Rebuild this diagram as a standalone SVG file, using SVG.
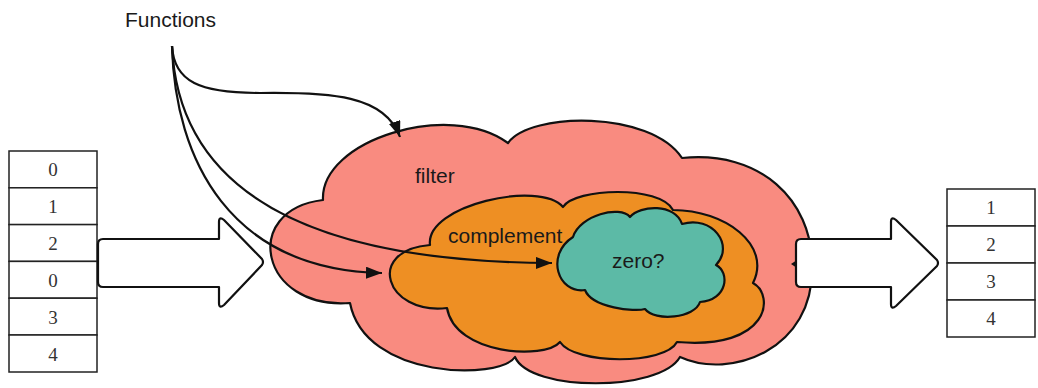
<svg xmlns="http://www.w3.org/2000/svg" width="1038" height="388" viewBox="0 0 1038 388">
  <style>
    .cell { fill: #ffffff; stroke: #222222; stroke-width: 1.5; }
    .num { font-family: "Liberation Serif", "Times New Roman", serif; font-size: 19px; fill: #333333; text-anchor: middle; }
    .label { font-family: "Liberation Sans", Arial, sans-serif; font-size: 21px; fill: #1a1a1a; }
    .block { fill: #ffffff; stroke: #111111; stroke-width: 2.2; stroke-linejoin: round; }
    .cloud { stroke: #111111; stroke-width: 2.2; stroke-linejoin: round; }
    .edge { fill: none; stroke: #111111; stroke-width: 2.2; }
  </style>
  <defs>
    <marker id="head" markerUnits="userSpaceOnUse" markerWidth="18" markerHeight="14" refX="16" refY="6" orient="auto">
      <path d="M0,0 L16,6 L0,12 Z" fill="#111111"/>
    </marker>
  </defs>

  <rect width="1038" height="388" fill="#ffffff"/>

  <!-- input list -->
  <g id="input-list">
    <rect class="cell" x="9" y="151" width="88" height="36.8"/>
    <rect class="cell" x="9" y="187.8" width="88" height="36.8"/>
    <rect class="cell" x="9" y="224.6" width="88" height="36.8"/>
    <rect class="cell" x="9" y="261.4" width="88" height="36.8"/>
    <rect class="cell" x="9" y="298.2" width="88" height="36.8"/>
    <rect class="cell" x="9" y="335" width="88" height="37"/>
    <text class="num" x="53" y="176">0</text>
    <text class="num" x="53" y="213">1</text>
    <text class="num" x="53" y="250">2</text>
    <text class="num" x="53" y="287">0</text>
    <text class="num" x="53" y="324">3</text>
    <text class="num" x="53" y="361">4</text>
  </g>

  <!-- arrow into filter -->
  <g id="input-arrow">
    <path class="block" d="M103,239 L219,239 L219,222 Q219,216 224,220 L262,259 Q264,262 262,265 L224,305 Q219,309 219,303 L219,287 L103,287 Q98,287 98,282 L98,244 Q98,239 103,239 Z"/>
  </g>

  <!-- filter cloud -->
  <g id="filter">
    <path class="cloud" fill="#f98b80" d="M323,200 C320,140 450,100 508,143 C530,112 650,110 682,158 C760,150 812,200 812,265 C815,350 730,380 680,357 C660,392 530,392 515,357 C500,380 365,380 350,303 C260,310 240,210 323,200 Z"/>
    <text class="label" x="415" y="183">filter</text>
  </g>

  <!-- complement cloud -->
  <g id="complement">
    <path class="cloud" fill="#ee8f23" d="M447,308 C385,315 365,250 430,245 C425,205 540,180 563,207 C575,188 660,185 673,210 C725,210 772,245 753,283 C775,295 770,350 677,342 C665,365 575,365 560,342 C545,360 455,355 447,308 Z"/>
    <text class="label" x="448" y="243">complement</text>
  </g>

  <!-- zero? cloud -->
  <g id="zero">
    <path class="cloud" fill="#5cbaa6" d="M573,237 C580,215 620,205 630,217 C640,205 675,203 682,224 C712,215 735,245 716,265 C730,272 728,300 700,302 C695,318 655,322 645,309 C635,312 592,308 585,290 C558,294 545,255 573,237 Z"/>
    <text class="label" x="612" y="268">zero?</text>
  </g>

  <!-- arrow out of filter -->
  <g id="output-arrow">
    <path class="block" d="M801,239 L891,239 L891,222 Q891,216 896,220 L937,260 Q939,263 937,266 L896,306 Q891,310 891,304 L891,287 L801,287 Q796,287 796,282 L796,244 Q796,239 801,239 Z"/>
    <path d="M797,260 L791,264 L797,268 Z" fill="#111111"/>
  </g>

  <!-- output list -->
  <g id="output-list">
    <rect class="cell" x="947" y="189" width="88" height="37"/>
    <rect class="cell" x="947" y="226" width="88" height="37"/>
    <rect class="cell" x="947" y="263" width="88" height="37"/>
    <rect class="cell" x="947" y="300" width="88" height="37"/>
    <text class="num" x="991" y="214">1</text>
    <text class="num" x="991" y="251">2</text>
    <text class="num" x="991" y="288">3</text>
    <text class="num" x="991" y="325">4</text>
  </g>

  <!-- source label -->
  <g id="functions">
    <text class="label" x="125" y="27">Functions</text>
  </g>

  <!-- function links -->
  <g id="connectors">
    <path class="edge" marker-end="url(#head)" d="M172,46 C174,82 200,93 260,93 C330,92 385,95 400,137"/>
    <path class="edge" marker-end="url(#head)" d="M172,46 C175,160 230,270 382,273"/>
    <path class="edge" marker-end="url(#head)" d="M172,46 C178,180 290,262 552,263"/>
  </g>
</svg>
